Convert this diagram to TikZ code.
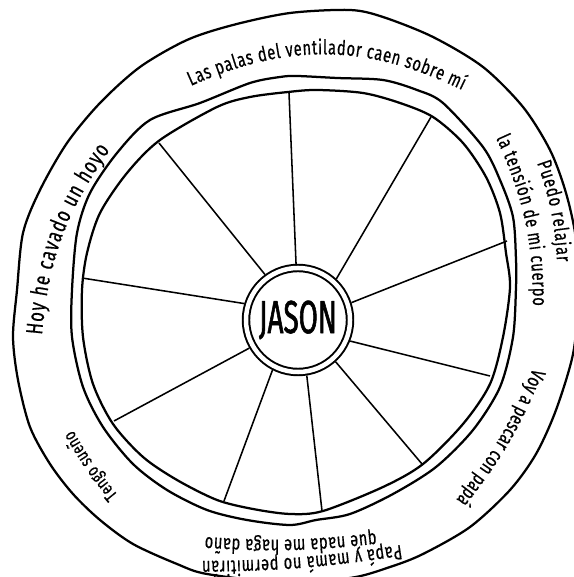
\documentclass[tikz,border=0pt]{standalone}
\usepackage{fontspec}
\newfontfamily\handfont[FakeStretch=0.72, FakeBold=0.5]{Fira Sans}
\newfontfamily\namefont[FakeStretch=0.6, FakeBold=1.2]{Fira Sans}
\newcommand\bandfont{\handfont\fontsize{14.5}{16}\selectfont}
\newcommand\smallband{\handfont\fontsize{13}{15}\selectfont}
\newcommand\bigband{\handfont\fontsize{16.5}{18}\selectfont}
\usetikzlibrary{decorations.text}

\begin{document}
\begin{tikzpicture}[x=0.025cm, y=0.025cm, line join=round,
  rim/.style={line width=1.6pt},
  spoke/.style={line width=1.1pt},
  ringtext/.style={decorate, decoration={text along path, text align={fit to path}, text={#1}}}]

  \useasboundingbox (0,0) rectangle (573,577);

  % Outer band
  \draw[rim] plot[smooth cycle] coordinates {(290,564) (350,567) (383,560) (433,540) (483,510) (523,470) (550,427) (566,384) (576,337) (578,277) (573,223) (556,167) (536,123) (510,87) (470,50) (423,23) (390,10) (350,-1) (280,-5) (207,3) (177,13) (133,33) (100,57) (73,83) (50,113) (30,150) (18,197) (13,240) (17,287) (23,344) (40,387) (67,434) (100,474) (140,510) (187,537) (233,552)};

  % Wheel rim
  \draw[rim] plot[smooth cycle] coordinates {(250,494) (280,500) (297,501) (337,499) (383,497) (417,487) (443,474) (483,430) (500,397) (513,360) (516,317) (516,290) (513,240) (500,190) (473,147) (436,110) (393,83) (350,63) (316,57) (290,52) (247,57) (207,67) (167,87) (133,113) (103,150) (83,190) (72,240) (72,287) (77,344) (90,384) (117,424) (150,457) (200,474)};
  \draw[rim] plot[smooth cycle] coordinates {(250,480) (288,485) (317,487) (363,484) (400,474) (433,460) (463,434) (486,400) (500,364) (506,324) (510,290) (503,240) (490,193) (463,153) (423,113) (383,90) (323,66) (290,63) (253,68) (217,77) (177,97) (143,120) (113,153) (93,193) (83,240) (82,287) (87,324) (100,364) (127,404) (160,437) (217,470)};

  % Hub
  \node[circle, draw, line width=1.4pt, double, double distance=3.2pt, fill=white, minimum size=2.6cm, inner sep=0pt, outer sep=3pt, font=\namefont\fontsize{33}{33}\selectfont] (jason) at (298,257) {JASON};

  % Spokes
  \coordinate (s1) at (289,484);
  \coordinate (s2) at (431,460);
  \coordinate (s3) at (507,336);
  \coordinate (s4) at (490,201);
  \coordinate (s5) at (422,113);
  \coordinate (s6) at (322,66);
  \coordinate (s7) at (224,76);
  \coordinate (s8) at (114,156);
  \coordinate (s9) at (82,299);
  \coordinate (s10) at (159,434);
  \foreach \a/\p in {92/s1, 47/s2, 18/s3, -22/s4, -48/s5, -81/s6, -117/s7, -150/s8, 163/s9, 126/s10}
    \draw[spoke] (jason.\a) -- (\p);

  % Band texts
  \path[ringtext={|\bandfont|Las palas del ventilador caen sobre mí}] (191,491) to[bend left=25] (462,487);
  \path[ringtext={|\bandfont|Puedo relajar}] (537,414) to[bend left=8] (557,315);
  \path[ringtext={|\bandfont|la tensión de mi cuerpo}] (496,439) to[bend left=12] (533,271);
  \path[ringtext={|\bandfont|Voy a pescar con papá}] (533,209) to[bend left=8] (456,77);
  \path[ringtext={|\bandfont|Papá y mamá no permitirán}] (401,32) to[bend left=4] (202,16);
  \path[ringtext={|\bandfont|que nada me haga daño}] (376,44) to[bend left=5] (205,40);
  \path[ringtext={|\smallband|Tengo sueño}] (118,82) to[bend left=5] (73,147);
  \path[ringtext={|\bigband|Hoy he cavado un hoyo}] (42,242) to[bend left=15] (110,427);

\end{tikzpicture}
\end{document}
